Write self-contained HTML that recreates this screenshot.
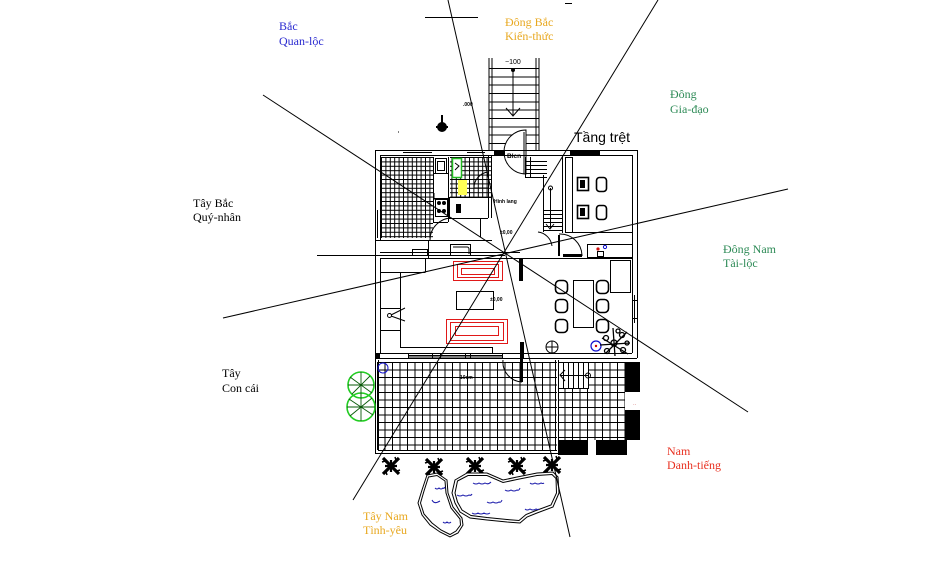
<!DOCTYPE html>
<html><head><meta charset="utf-8"><style>
html,body{margin:0;padding:0;background:#fff;width:952px;height:565px;overflow:hidden}
svg{display:block}
.t{font-family:"Liberation Serif","Noto Serif CJK SC",serif;font-size:12px}
</style></head><body>
<svg width="952" height="565" viewBox="0 0 952 565" xmlns="http://www.w3.org/2000/svg">
<defs>
<pattern id="g1" x="377" y="362" width="7.5" height="7.5" patternUnits="userSpaceOnUse"><path d="M0 0.5H7.5M0.5 0V7.5" stroke="#000" stroke-width="1" fill="none" shape-rendering="crispEdges"/></pattern>
<pattern id="g2" x="381" y="157" width="4.4" height="4.4" patternUnits="userSpaceOnUse"><path d="M0 0.5H4.4M0.5 0V4.4" stroke="#000" stroke-width="1" fill="none" shape-rendering="crispEdges"/></pattern>
</defs>
<rect width="952" height="565" fill="#fff"/>

<g fill="none" stroke="#000" stroke-width="1">
<path d="M425 17.5H478M565 3.5H572"/>
<path d="M489 58V150M492 58V150M536 58V150M539 58V150"/>
<path d="M489 68.5H539M489 77H539M489 85H539M489 93.5H539M489 102H539M489 110H539M489 118.5H539M489 127H539M489 135H539M489 143.5H539"/>
<path d="M513 70V115M506 108L513 116L520 108"/>
<circle cx="513" cy="70" r="1.5" fill="#000"/>
</g>
<text x="505" y="64" font-family="Liberation Sans,sans-serif" font-size="7">−100</text>
<text x="463" y="106" font-family="Liberation Sans,sans-serif" font-size="5" font-weight="bold">.000</text>
<g fill="#000"><rect x="441" y="115" width="2" height="10"/><circle cx="442" cy="127" r="5"/><rect x="436" y="126" width="12" height="2"/></g>
<path d="M398 132h1" stroke="#000"/>

<path d="M526 130A22 22 0 0 0 526 174Z" fill="#fff" stroke="#000"/>
<path d="M524 132V174M526 130V174" stroke="#000" stroke-width="1"/>
<text x="507" y="158" font-family="Liberation Sans,sans-serif" font-size="6.5" font-weight="bold">Blcn</text>

<rect x="381" y="157" width="52" height="81" fill="url(#g2)"/>
<rect x="450" y="157" width="41" height="40" fill="url(#g2)"/>
<rect x="377" y="362" width="180" height="88" fill="url(#g1)"/>
<rect x="588" y="362" width="37" height="26" fill="url(#g1)"/>
<rect x="558" y="388" width="67" height="52" fill="url(#g1)"/>

<g fill="none" stroke="#000" stroke-width="1">
<path d="M375 150.5H637M380 155.5H632"/>
<path d="M375.5 150V358M380.5 155V240M380.5 258V353"/>
<path d="M637.5 150V358M632.5 155V353"/>
<path d="M375 358.5H637M380 353.5H632"/>
<path d="M375.5 358V453M378.5 360V450M375 453.5H558M378 450.5H557M555.5 360V450M558.5 360V455"/>
<path d="M377.5 210V238"/>
</g>
<g fill="#000">
<rect x="494" y="151" width="11" height="4"/>
<rect x="570" y="151" width="30" height="4"/>
<rect x="375" y="353" width="5" height="5"/>
</g>
<g fill="none" stroke="#000" stroke-width="1">
<path d="M403 152.5H432M467 152.5H485"/>
<path d="M433.5 157V222M448.5 157V222"/>
<rect x="435.5" y="158.5" width="11" height="15"/>
<rect x="437.5" y="161.5" width="7" height="9"/>
<path d="M433 173.5H448M433 198.5H448"/>
<rect x="435.5" y="199.5" width="12" height="17"/>
<path d="M433 222.5H448"/>
<path d="M488.5 155V218M491.5 155V218"/>
<path d="M449 197.5H491M449 218.5H488M480.5 218V237M449.5 197V218"/>
<path d="M375 240.5H428M428.5 240V258M428 240.5H492"/>
<path d="M430 240A22 22 0 0 1 452 218"/>
<path d="M488 172A16 16 0 0 0 474 188L488 188"/>
<rect x="412.5" y="249.5" width="15" height="6"/>
<rect x="450.5" y="244.5" width="20" height="11"/>
<path d="M453 247h14a2 2 0 0 1 2 2v5"/>
<path d="M380 252.5H520M380 258.5H520"/>
<path d="M525.5 157V177M530.5 157V177M525 161.5H547M525 165.5H547M525 169.5H547M525 173.5H547M525 177.5H547"/>
<path d="M543.5 175V232"/>
<path d="M543 210.5H562M543 214.5H562M543 218.5H562M543 222.5H562M543 226.5H562M543 230.5H562M550.5 188V228M546 224L550 229L554 224"/>
<circle cx="550.5" cy="188" r="2"/>
<path d="M562.5 157V233M565.5 157V233"/>
<rect x="565.5" y="157.5" width="7" height="75"/>
<path d="M565 232.5H632"/>
<path d="M559 234A22 22 0 0 1 582 256"/>
<path d="M538 232A16 16 0 0 1 552 246"/>
<rect x="587.5" y="244.5" width="45" height="13"/>
<rect x="597.5" y="251.5" width="6" height="5"/>
<path d="M425.5 258V272M400 272.5H425.5M400.5 272V347M400 347.5H492M492.5 347V353"/>
<path d="M380 272.5H400M380 308.5H400M380 330.5H400"/>
<circle cx="389.5" cy="315.5" r="2"/>
<path d="M391 315L405 308M391 316L405 321"/>
<rect x="456.5" y="291.5" width="37" height="18"/>
<path d="M522 258.5H632"/>
<rect x="573.5" y="280.5" width="20" height="47"/>
<rect x="610.5" y="260.5" width="20" height="32"/>
<path d="M634.5 295V323M632 300.5H637M632 318.5H637"/>
<circle cx="552" cy="347" r="6"/>
<path d="M546 347H558M552 341V353"/>
<path d="M408 355.5H503M408 357H503M408.5 353V358M432.5 353V358M440.5 353V358M465.5 353V358M470.5 353V358M502.5 353V358"/>
<path d="M503 360A20 20 0 0 0 522 382"/>
<rect x="558.5" y="362.5" width="30" height="26"/>
<path d="M563.5 362V388M568.5 362V388M573.5 362V388M578.5 362V388M583.5 362V388M560 375.5H588M565 370L560 375L565 381"/>
<circle cx="588" cy="375.5" r="2.5"/>
</g>
<!-- chairs bold -->
<g fill="none" stroke="#000" stroke-width="1.6">
<rect x="555.5" y="280.5" width="12" height="13" rx="4"/>
<rect x="555.5" y="299.5" width="12" height="13" rx="4"/>
<rect x="555.5" y="319.5" width="12" height="13" rx="4"/>
<rect x="596.5" y="280.5" width="12" height="13" rx="4"/>
<rect x="596.5" y="299.5" width="12" height="13" rx="4"/>
<rect x="596.5" y="319.5" width="12" height="13" rx="4"/>
<rect x="577.5" y="177.5" width="11" height="13"/>
<rect x="596.5" y="177.5" width="10" height="14" rx="3"/>
<rect x="577.5" y="205.5" width="11" height="13"/>
<rect x="596.5" y="205.5" width="10" height="14" rx="3"/>
</g>
<g fill="#000">
<rect x="519" y="258" width="4" height="23"/>
<rect x="520" y="342" width="4" height="16"/>
<rect x="520" y="358" width="3" height="24"/>
<rect x="558" y="235" width="2" height="21"/>
<rect x="563" y="254" width="19" height="3"/>
<rect x="433" y="193" width="1.5" height="7"/>
<rect x="456" y="204" width="5" height="9"/>
<rect x="580" y="180" width="5" height="8"/>
<rect x="580" y="208" width="5" height="8"/>
<rect x="625" y="362" width="15" height="30"/>
<rect x="625" y="410" width="15" height="30"/>
<rect x="558" y="440" width="30" height="15"/>
<rect x="596" y="440" width="31" height="15"/>
</g>
<g fill="#000"><circle cx="439" cy="203" r="2"/><circle cx="444" cy="203" r="2"/><circle cx="439" cy="211" r="2"/><circle cx="444" cy="211" r="2"/></g>
<rect x="452.5" y="158.5" width="9" height="19" fill="#fff" stroke="#22bb22" stroke-width="1.5"/>
<path d="M455 163l4 3-4 4" stroke="#000" fill="none"/>
<rect x="458" y="180" width="9" height="15" fill="#ffff55"/>
<g fill="none" stroke="#e01818" stroke-width="1">
<rect x="453.5" y="261.5" width="49" height="19"/>
<rect x="457.5" y="264.5" width="41" height="13"/>
<rect x="461.5" y="268.5" width="33" height="6"/>
<rect x="446.5" y="319.5" width="61" height="24"/>
<rect x="450.5" y="322.5" width="53" height="18"/>
<rect x="455.5" y="326.5" width="43" height="9"/>
</g>
<circle cx="598" cy="249" r="1.6" fill="#d01010"/>
<circle cx="605" cy="247" r="1.6" fill="none" stroke="#1010cc"/>
<circle cx="596" cy="346" r="5" fill="none" stroke="#1010cc" stroke-width="1.2"/>
<circle cx="596" cy="346" r="1.2" fill="#c00"/>
<circle cx="383" cy="368" r="5" fill="none" stroke="#1010cc"/>
<!-- plant cluster -->
<g stroke="#000" stroke-width="1.3" fill="none">
<path d="M602 338L628 354M606 353L627 332M613 328L615 356M600 345L630 343"/>
<circle cx="606" cy="338" r="2.5"/><circle cx="622" cy="335" r="2.5"/><circle cx="607" cy="351" r="2.5"/><circle cx="623" cy="350" r="2.5"/><circle cx="614" cy="343" r="3"/><circle cx="618" cy="331" r="2"/><circle cx="627" cy="343" r="2"/>
</g>
<g fill="none" stroke="#22cc22" stroke-width="1.6">
<circle cx="361" cy="385" r="13"/><circle cx="361" cy="407" r="14"/>
</g>
<g stroke="#0a5a0a" stroke-width="0.9" fill="none">
<path d="M350 377L372 393M352 394L370 376M361 372V398M348 385H374"/>
<path d="M349 399L373 415M350 416L372 398M361 393V421M347 407H375"/>
</g>
<g font-family="Liberation Sans,sans-serif" font-size="5" font-weight="bold" fill="#000">
<text x="494" y="203">Hinh lang</text>
<text x="500" y="234">±0,00</text>
<text x="490" y="301">±0,00</text>
<text x="457" y="379">−10cm</text>
</g>
<text x="633" y="406" font-size="5" fill="#c04040" font-family="Liberation Sans,sans-serif">··</text>

<!-- bottom trees -->
<g stroke="#000" fill="none">
<g transform="translate(391,466)"><path d="M-8-8L8 8M8-8L-8 8" stroke-width="3.2"/><path d="M-6 0H6M0-6V6" stroke-width="2.2"/><path d="M-9-4l3-1M4-9l1 3M9 4l-3 1M-4 9l-1-3" stroke-width="1.5"/></g>
<g transform="translate(434,467)"><path d="M-8-8L8 8M8-8L-8 8" stroke-width="3.2"/><path d="M-6 0H6M0-6V6" stroke-width="2.2"/><path d="M-9-4l3-1M4-9l1 3M9 4l-3 1M-4 9l-1-3" stroke-width="1.5"/></g>
<g transform="translate(475,466)"><path d="M-8-8L8 8M8-8L-8 8" stroke-width="3.2"/><path d="M-6 0H6M0-6V6" stroke-width="2.2"/><path d="M-9-4l3-1M4-9l1 3M9 4l-3 1M-4 9l-1-3" stroke-width="1.5"/></g>
<g transform="translate(517,466)"><path d="M-8-8L8 8M8-8L-8 8" stroke-width="3.2"/><path d="M-6 0H6M0-6V6" stroke-width="2.2"/><path d="M-9-4l3-1M4-9l1 3M9 4l-3 1M-4 9l-1-3" stroke-width="1.5"/></g>
<g transform="translate(552,465)"><path d="M-8-8L8 8M8-8L-8 8" stroke-width="3.2"/><path d="M-6 0H6M0-6V6" stroke-width="2.2"/><path d="M-9-4l3-1M4-9l1 3M9 4l-3 1M-4 9l-1-3" stroke-width="1.5"/></g>
</g>
<g fill="#fff" stroke="#000" stroke-width="1">
<path d="M427 475L437 473L447 480L448 493L453 507L462 518L463 525L458 533L450 537L440 532L430 525L422 515L418 503L422 490Z"/>
<path d="M428.5 477L437 475.5L445 481L446 493L451 508L460 519L460.5 525L456 531L450 534.5L441 530L432 523L424 514L420.5 503L424 491Z"/>
<path d="M455 480L467 473L487 473L503 480L517 477L537 473L553 472L558 477L559 493L553 507L537 513L527 517L520 523L507 522L487 520L470 518L460 512L455 503L452 493Z"/>
<path d="M457.5 481L468 475.5L487 475.5L503 482.5L517 479.5L537 475.5L552 474.5L556 478.5L556.5 493L551 505L536 510.5L526 514.5L519 520.5L507 519.5L487 517.5L471 515.5L462 510L457.5 502L455 493Z"/>
</g>
<g stroke="#1a1aaa" stroke-width="1" fill="none">
<path d="M435 488q2 2 4 0q2 2 4 0q1 1 2-1"/>
<path d="M432 500q2 4 6 2l2-1"/>
<path d="M443 522q2 2 4 0q2 2 4 0"/>
<path d="M473 483q3 2 6 0q3 2 6 0q3 2 6-1"/>
<path d="M457 495q3 2 6 0q3 2 6 0q2 1 3-1"/>
<path d="M487 502q3 2 6 0q3 2 6 0q2 1 3-2"/>
<path d="M472 513q3 2 6 0q3 2 6 0q3 2 6 0"/>
<path d="M505 490q3 2 6 0q3 2 6 0q2 1 3-2"/>
<path d="M530 483q2 2 5 0q3 2 6 0q2 1 3 0"/>
<path d="M525 509q2 2 5 0q3 2 6 0q2 1 3 0"/>
</g>

<g stroke="#000" stroke-width="1" fill="none">
<path d="M263 95L748 412"/>
<path d="M223 318L788 189"/>
<path d="M317 255.5H505"/>
<path d="M448 0L570 537"/>
<path d="M658 0L353 500"/>
</g>

<g class="t">
<text x="279" y="30" fill="#2a2ad0">Bắc</text>
<text x="279" y="45" fill="#2a2ad0">Quan-lộc</text>
<text x="505" y="26" fill="#e8a820">Đông Bắc</text>
<text x="505" y="40" fill="#e8a820">Kiến-thức</text>
<text x="670" y="98" fill="#2e8b57">Đông</text>
<text x="670" y="113" fill="#2e8b57">Gia-đạo</text>
<text x="193" y="207" fill="#000">Tây Bắc</text>
<text x="193" y="221" fill="#000">Quý-nhân</text>
<text x="723" y="253" fill="#2e8b57">Đông Nam</text>
<text x="723" y="267" fill="#2e8b57">Tài-lộc</text>
<text x="222" y="377" fill="#000">Tây</text>
<text x="222" y="392" fill="#000">Con cái</text>
<text x="667" y="455" fill="#e83020">Nam</text>
<text x="667" y="469" fill="#e83020">Danh-tiếng</text>
<text x="363" y="520" fill="#e8a820">Tây Nam</text>
<text x="363" y="534" fill="#e8a820">Tình-yêu</text>
</g>
<text x="574" y="142" font-family="Liberation Sans,sans-serif" font-size="14" fill="#000">Tầng trệt</text>
</svg>
</body></html>
